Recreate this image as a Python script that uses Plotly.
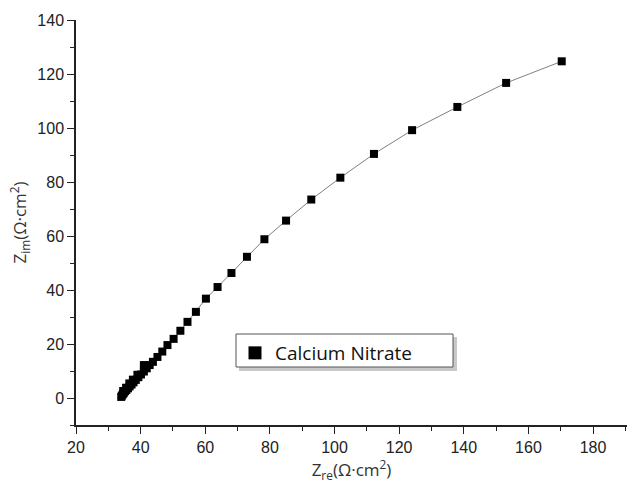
import plotly.graph_objects as go

# Data (Nyquist plot)
zre = [34.0, 34.2, 34.5, 34.6, 34.8, 35.2, 35.5, 35.6, 36.1, 36.5, 36.6, 37.2, 37.6, 37.8,
       38.5, 39.0, 39.3, 40.1, 41.0, 41.0, 41.9, 42.8, 43.8, 45.2, 46.7, 48.3, 50.2,
       52.3, 54.5, 57.1, 60.2, 63.8, 68.1, 72.9, 78.3, 85.0, 92.8, 101.8, 112.2,
       124.0, 138.0, 153.1, 170.3]
zim = [0.4, 0.9, 1.4, 2.6, 1.9, 2.5, 3.8, 3.0, 3.6, 5.4, 4.3, 5.0, 6.8, 5.8,
       6.7, 8.6, 7.7, 8.7, 9.8, 12.2, 11.0, 12.2, 13.4, 15.2, 17.2, 19.6, 21.9,
       24.9, 28.2, 31.9, 36.8, 41.1, 46.3, 52.3, 58.8, 65.7, 73.5, 81.6, 90.4,
       99.2, 107.8, 116.7, 124.7]
series_name = "Calcium Nitrate"
x_ticks = [20, 40, 60, 80, 100, 120, 140, 160, 180]
y_ticks = [0, 20, 40, 60, 80, 100, 120, 140]

W, H = 627, 488
L, R, T, B = 76, 0, 20, 63
pw, ph = W - L - R, H - T - B

def px2paper(x, y):
    return (x - L) / pw, (H - B - y) / ph

fig = go.Figure()
fig.add_trace(go.Scatter(
    x=zre, y=zim, mode="lines+markers", showlegend=False,
    line=dict(color="#808080", width=1),
    marker=dict(symbol="square", size=8, color="black"),
))
fig.add_trace(go.Scatter(
    x=[None], y=[None], mode="markers", name=series_name,
    marker=dict(symbol="square", size=13, color="black"),
))

axis_common = dict(
    showline=True, linecolor="#222", linewidth=1.5, mirror=False,
    ticks="outside", ticklen=7, tickwidth=1.3, tickcolor="#222",
    showgrid=False, zeroline=False, automargin=False,
    tickfont=dict(family="Liberation Sans, Arial", size=16, color="#222"),
    minor=dict(ticks="outside", ticklen=4, tickwidth=1.1, tickcolor="#222", dtick=10),
)

fig.update_xaxes(
    range=[20, 190.5], tickvals=x_ticks, **axis_common,
    title=dict(text="Z<sub>re</sub>(Ω·cm<sup>2</sup>)",
               font=dict(family="Open Sans", size=17, color="#333"), standoff=6),
)
fig.update_yaxes(
    range=[-10, 140], tickvals=y_ticks, **axis_common,
    title=dict(text="Z<sub>im</sub>(Ω·cm<sup>2</sup>)",
               font=dict(family="Open Sans", size=17, color="#333"), standoff=6),
)

# legend frame with drop shadow
bx0, by0 = px2paper(236, 334)
bx1, by1 = px2paper(453, 367)
sx0, sy0 = px2paper(239, 337)
sx1, sy1 = px2paper(457, 371)
fig.add_shape(type="rect", xref="paper", yref="paper", x0=sx0, y0=sy1, x1=sx1, y1=sy0,
              fillcolor="#b0b0b0", line=dict(width=0), layer="above", opacity=0.7)
fig.add_shape(type="rect", xref="paper", yref="paper", x0=bx0, y0=by1, x1=bx1, y1=by0,
              fillcolor="white", line=dict(width=1, color="#555"), layer="above")

lx, ly = px2paper(235, 334)

fig.update_layout(
    width=W, height=H,
    margin=dict(l=L, r=R, t=T, b=B),
    paper_bgcolor="white", plot_bgcolor="white",
    hovermode=False,
    legend=dict(x=lx, y=ly, xanchor="left", yanchor="top",
                bgcolor="rgba(0,0,0,0)", borderwidth=0,
                font=dict(family="Open Sans", size=19, color="#111"),
                itemwidth=30),
)

fig.write_html("out.html", config={"displayModeBar": False},
               post_script="document.body.style.margin='0';")
